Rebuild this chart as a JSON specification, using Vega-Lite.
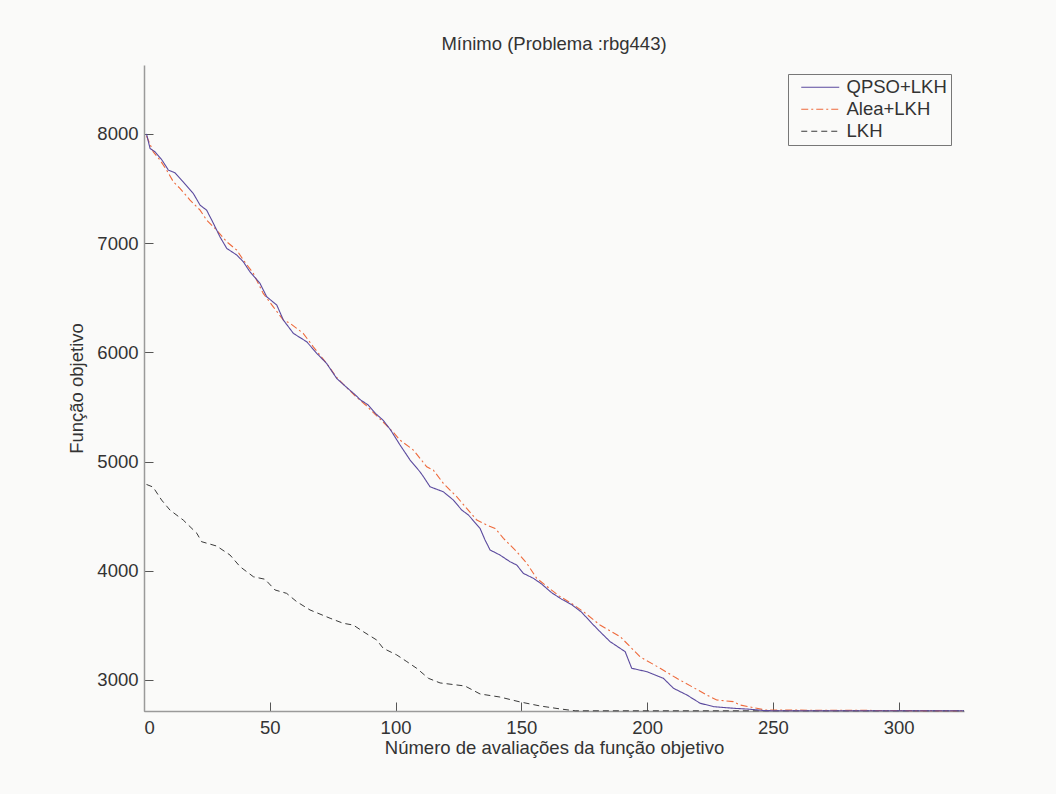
{
  "$schema": "https://vega.github.io/schema/vega-lite/v6.json",
  "width": 820,
  "height": 646,
  "autosize": "none",
  "padding": {"left": 144, "top": 65, "right": 92, "bottom": 83},
  "background": "#fafaf9",
  "title": {"text": "Mínimo (Problema :rbg443)", "fontSize": 18.5, "font": "Liberation Sans", "fontWeight": "normal", "color": "#333333", "offset": 12},
  "datasets": {
    "qpso": [
      {"x": 1, "y": 8000}, {"x": 2.4, "y": 7866}, {"x": 4.4, "y": 7835}, {"x": 7, "y": 7765}, {"x": 9.7, "y": 7668},
      {"x": 12.3, "y": 7643}, {"x": 15.6, "y": 7560}, {"x": 19.6, "y": 7454}, {"x": 22.3, "y": 7347}, {"x": 24.9, "y": 7301},
      {"x": 27.6, "y": 7180}, {"x": 30.2, "y": 7057}, {"x": 32.9, "y": 6951}, {"x": 36.9, "y": 6890}, {"x": 39.5, "y": 6828},
      {"x": 42.1, "y": 6737}, {"x": 46.1, "y": 6631}, {"x": 48.8, "y": 6508}, {"x": 52.8, "y": 6432}, {"x": 55.4, "y": 6295},
      {"x": 59.4, "y": 6173}, {"x": 64.7, "y": 6096}, {"x": 68.7, "y": 5990}, {"x": 72.6, "y": 5898}, {"x": 76.6, "y": 5761},
      {"x": 80, "y": 5690}, {"x": 84, "y": 5610}, {"x": 86, "y": 5565}, {"x": 89, "y": 5520}, {"x": 92, "y": 5440},
      {"x": 95, "y": 5380}, {"x": 98, "y": 5290}, {"x": 101.8, "y": 5151}, {"x": 105.8, "y": 5013}, {"x": 109.7, "y": 4906},
      {"x": 111.1, "y": 4861}, {"x": 113.7, "y": 4769}, {"x": 119, "y": 4723}, {"x": 123, "y": 4647}, {"x": 126.3, "y": 4556},
      {"x": 129, "y": 4510}, {"x": 133.6, "y": 4388}, {"x": 135.6, "y": 4281}, {"x": 137.6, "y": 4190}, {"x": 141.5, "y": 4144},
      {"x": 145.5, "y": 4083}, {"x": 148.2, "y": 4052}, {"x": 150.8, "y": 3976}, {"x": 154.8, "y": 3931}, {"x": 158, "y": 3880},
      {"x": 162, "y": 3800}, {"x": 166, "y": 3740}, {"x": 170, "y": 3690}, {"x": 174, "y": 3620}, {"x": 178, "y": 3520},
      {"x": 181.3, "y": 3442}, {"x": 185.3, "y": 3351}, {"x": 191.3, "y": 3259}, {"x": 193.9, "y": 3107}, {"x": 199.9, "y": 3076},
      {"x": 206.5, "y": 3015}, {"x": 210.5, "y": 2924}, {"x": 215.8, "y": 2863}, {"x": 221.1, "y": 2787}, {"x": 226.4, "y": 2756},
      {"x": 234.3, "y": 2741}, {"x": 241, "y": 2732}, {"x": 247, "y": 2719}, {"x": 326, "y": 2718}
    ],
    "alea": [
      {"x": 1, "y": 7980}, {"x": 3.7, "y": 7835}, {"x": 6.4, "y": 7759}, {"x": 9, "y": 7668}, {"x": 11.7, "y": 7560},
      {"x": 14.3, "y": 7500}, {"x": 18.3, "y": 7393}, {"x": 22.3, "y": 7301}, {"x": 24.9, "y": 7210}, {"x": 28.9, "y": 7118},
      {"x": 32.9, "y": 7011}, {"x": 36.9, "y": 6935}, {"x": 39.5, "y": 6844}, {"x": 43.5, "y": 6722}, {"x": 47.4, "y": 6539},
      {"x": 51.4, "y": 6416}, {"x": 55.4, "y": 6295}, {"x": 58.1, "y": 6265}, {"x": 63.3, "y": 6173}, {"x": 67.3, "y": 6050},
      {"x": 72.6, "y": 5898}, {"x": 76.6, "y": 5770}, {"x": 80, "y": 5690}, {"x": 84, "y": 5600}, {"x": 88, "y": 5520},
      {"x": 92, "y": 5430}, {"x": 96, "y": 5340}, {"x": 99, "y": 5270}, {"x": 101.8, "y": 5196}, {"x": 107.1, "y": 5105},
      {"x": 112.4, "y": 4952}, {"x": 115, "y": 4922}, {"x": 119, "y": 4800}, {"x": 124.3, "y": 4678}, {"x": 128.3, "y": 4571},
      {"x": 132.3, "y": 4464}, {"x": 136.3, "y": 4418}, {"x": 139.6, "y": 4388}, {"x": 142.9, "y": 4297}, {"x": 148.2, "y": 4174},
      {"x": 152.2, "y": 4068}, {"x": 156.1, "y": 3931}, {"x": 160, "y": 3860}, {"x": 165, "y": 3770}, {"x": 170, "y": 3700},
      {"x": 175, "y": 3620}, {"x": 181.3, "y": 3503}, {"x": 189.3, "y": 3397}, {"x": 197.2, "y": 3213}, {"x": 205.2, "y": 3107},
      {"x": 211.8, "y": 3015}, {"x": 217.8, "y": 2939}, {"x": 223.7, "y": 2863}, {"x": 227.7, "y": 2817}, {"x": 234.3, "y": 2802},
      {"x": 237, "y": 2771}, {"x": 243.6, "y": 2741}, {"x": 247, "y": 2725}, {"x": 326, "y": 2718}
    ],
    "lkh": [
      {"x": 1, "y": 4790}, {"x": 3.6, "y": 4766}, {"x": 7, "y": 4647}, {"x": 10.3, "y": 4556}, {"x": 15.6, "y": 4464},
      {"x": 21, "y": 4343}, {"x": 22.9, "y": 4266}, {"x": 28.9, "y": 4226}, {"x": 34.2, "y": 4144}, {"x": 38.2, "y": 4037},
      {"x": 43.5, "y": 3945}, {"x": 48.1, "y": 3922}, {"x": 52.1, "y": 3824}, {"x": 56.7, "y": 3793}, {"x": 60.7, "y": 3717},
      {"x": 66, "y": 3641}, {"x": 74, "y": 3565}, {"x": 79.2, "y": 3519}, {"x": 83.2, "y": 3503}, {"x": 87.2, "y": 3442},
      {"x": 92.5, "y": 3366}, {"x": 95.1, "y": 3290}, {"x": 100.5, "y": 3229}, {"x": 104.5, "y": 3168}, {"x": 108.4, "y": 3107},
      {"x": 113.1, "y": 3015}, {"x": 117.7, "y": 2973}, {"x": 127.6, "y": 2945}, {"x": 133.6, "y": 2872}, {"x": 141.5, "y": 2844},
      {"x": 149.5, "y": 2799}, {"x": 157.5, "y": 2762}, {"x": 165.4, "y": 2735}, {"x": 171.4, "y": 2718}, {"x": 326, "y": 2718}
    ]
  },
  "layer": [
    {
      "data": {"name": "lkh"},
      "transform": [{"calculate": "'LKH'", "as": "serie"}],
      "mark": {"type": "line", "strokeWidth": 1},
      "encoding": {
        "x": {"field": "x", "type": "quantitative"},
        "y": {"field": "y", "type": "quantitative"},
        "color": {"field": "serie", "type": "nominal"},
        "strokeDash": {"field": "serie", "type": "nominal"}
      }
    },
    {
      "data": {"name": "alea"},
      "transform": [{"calculate": "'Alea+LKH'", "as": "serie"}],
      "mark": {"type": "line", "strokeWidth": 1.1},
      "encoding": {
        "x": {"field": "x", "type": "quantitative"},
        "y": {"field": "y", "type": "quantitative"},
        "color": {"field": "serie", "type": "nominal"},
        "strokeDash": {"field": "serie", "type": "nominal"}
      }
    },
    {
      "data": {"name": "qpso"},
      "transform": [{"calculate": "'QPSO+LKH'", "as": "serie"}],
      "mark": {"type": "line", "strokeWidth": 1.1},
      "encoding": {
        "x": {"field": "x", "type": "quantitative", "scale": {"domain": [0, 326], "nice": false, "zero": false},
          "axis": {"values": [0, 50, 100, 150, 200, 250, 300], "title": "Número de avaliações da função objetivo"}},
        "y": {"field": "y", "type": "quantitative", "scale": {"domain": [2716, 8630], "nice": false, "zero": false},
          "axis": {"values": [3000, 4000, 5000, 6000, 7000, 8000], "title": "Função objetivo", "format": "d"}},
        "color": {"field": "serie", "type": "nominal",
          "scale": {"domain": ["QPSO+LKH", "Alea+LKH", "LKH"], "range": ["#5b4a9e", "#ee6a3c", "#3a3a3a"]},
          "legend": {"title": null, "labelExpr": "datum.label + '\u00a0\u00a0'"}},
        "strokeDash": {"field": "serie", "type": "nominal",
          "scale": {"domain": ["QPSO+LKH", "Alea+LKH", "LKH"], "range": [[1, 0], [7, 3, 2, 3], [6, 4]]},
          "legend": {"title": null, "labelExpr": "datum.label + '\u00a0\u00a0'"}}
      }
    }
  ],
  "config": {
    "view": {"stroke": null},
    "font": "Liberation Sans",
    "axis": {
      "grid": false,
      "domainColor": "#9a9a9a",
      "domainWidth": 1.5,
      "tickColor": "#555555",
      "tickSize": -9,
      "tickWidth": 1,
      "labelFont": "Liberation Sans",
      "labelFontSize": 18.5,
      "labelColor": "#333333",
      "titleFont": "Liberation Sans",
      "titleFontSize": 18.5,
      "titleFontWeight": "normal",
      "titleColor": "#333333"
    },
    "axisX": {"titlePadding": 1, "labelPadding": 16.5},
    "axisY": {"titlePadding": 10, "labelPadding": 15},
    "legend": {
      "orient": "none",
      "legendX": 644,
      "legendY": 9,
      "symbolType": "M0,0H7.6",
      "symbolSize": 100,
      "symbolStrokeWidth": 1.1,
      "labelFont": "Liberation Sans",
      "labelFontSize": 18.5,
      "labelColor": "#333333",
      "labelOffset": 36,
      "strokeColor": "#777777",
      "fillColor": "#fafaf9",
      "padding": 4,
      "rowPadding": 3
    }
  }
}
